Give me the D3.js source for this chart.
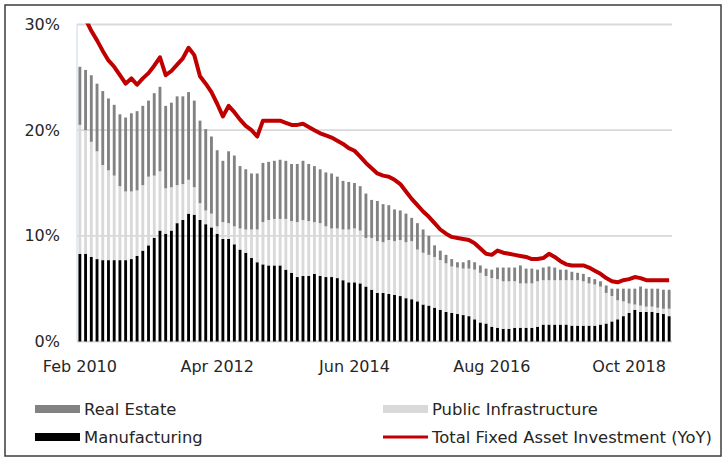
<!DOCTYPE html>
<html>
<head>
<meta charset="utf-8">
<script src="https://cdn.jsdelivr.net/npm/d3@7"></script>
<style>
  html, body { margin: 0; padding: 0; background: #fff; }
  svg { display: block; }
  text { font-family: "DejaVu Sans", sans-serif; fill: #262626; }
</style>
</head>
<body>
<svg id="chart" width="725" height="459"></svg>
<script>
// ---------- DATA ----------
const categories = [
  "Feb 2010","Mar 2010","Apr 2010","May 2010","Jun 2010","Jul 2010","Aug 2010","Sep 2010","Oct 2010","Nov 2010","Dec 2010",
  "Feb 2011","Mar 2011","Apr 2011","May 2011","Jun 2011","Jul 2011","Aug 2011","Sep 2011","Oct 2011","Nov 2011","Dec 2011",
  "Feb 2012","Mar 2012","Apr 2012","May 2012","Jun 2012","Jul 2012","Aug 2012","Sep 2012","Oct 2012","Nov 2012","Dec 2012",
  "Feb 2013","Mar 2013","Apr 2013","May 2013","Jun 2013","Jul 2013","Aug 2013","Sep 2013","Oct 2013","Nov 2013","Dec 2013",
  "Feb 2014","Mar 2014","Apr 2014","May 2014","Jun 2014","Jul 2014","Aug 2014","Sep 2014","Oct 2014","Nov 2014","Dec 2014",
  "Feb 2015","Mar 2015","Apr 2015","May 2015","Jun 2015","Jul 2015","Aug 2015","Sep 2015","Oct 2015","Nov 2015","Dec 2015",
  "Feb 2016","Mar 2016","Apr 2016","May 2016","Jun 2016","Jul 2016","Aug 2016","Sep 2016","Oct 2016","Nov 2016","Dec 2016",
  "Feb 2017","Mar 2017","Apr 2017","May 2017","Jun 2017","Jul 2017","Aug 2017","Sep 2017","Oct 2017","Nov 2017","Dec 2017",
  "Feb 2018","Mar 2018","Apr 2018","May 2018","Jun 2018","Jul 2018","Aug 2018","Sep 2018","Oct 2018","Nov 2018","Dec 2018",
  "Feb 2019","Mar 2019","Apr 2019","May 2019","Jun 2019"
];

// Contribution to FAI growth (percentage points)
const manufacturing = [
  8.3,8.3,8.0,7.8,7.7,7.7,7.7,7.7,7.7,7.8,8.1,
  8.6,9.1,9.8,10.5,10.2,10.5,11.2,11.5,12.1,12.0,11.5,
  11.1,10.8,10.2,9.7,9.7,9.2,8.7,8.4,7.9,7.5,7.3,
  7.2,7.2,7.2,6.8,6.5,6.1,6.2,6.2,6.4,6.2,6.1,
  6.1,6.0,5.8,5.6,5.6,5.5,5.2,4.9,4.6,4.6,4.5,
  4.4,4.3,4.1,4.0,3.8,3.5,3.4,3.2,3.0,2.8,2.7,
  2.6,2.5,2.4,2.1,1.8,1.7,1.4,1.3,1.2,1.2,1.3,
  1.3,1.3,1.3,1.4,1.6,1.6,1.6,1.6,1.6,1.5,1.5,
  1.5,1.5,1.5,1.6,1.7,1.9,2.1,2.4,2.7,3.0,2.8,
  2.8,2.8,2.7,2.6,2.4
];
const publicInfrastructure = [
  12.2,11.7,10.9,10.2,9.0,8.5,8.0,7.0,6.5,6.4,6.2,
  6.2,6.5,5.9,5.6,4.3,4.1,3.6,3.4,3.2,2.6,1.6,
  1.3,1.3,0.7,1.6,1.5,1.7,2.0,2.2,2.7,3.1,4.0,
  4.3,4.4,4.4,4.8,4.9,5.2,5.3,5.2,4.9,5.0,4.8,
  4.6,4.7,4.8,5.0,5.1,5.0,4.6,4.9,4.9,4.8,5.1,
  5.1,5.3,5.3,5.5,4.9,4.9,4.8,4.8,4.7,4.6,4.4,
  4.4,4.4,4.5,4.7,4.7,4.5,4.6,4.6,4.5,4.5,4.4,
  4.2,4.2,4.2,4.3,4.2,4.2,4.2,4.2,4.2,4.3,4.3,
  4.2,4.0,3.9,3.6,2.9,2.4,1.8,1.4,0.9,0.5,0.6,
  0.5,0.5,0.5,0.5,0.7
];
const realEstate = [
  5.5,5.7,6.3,6.4,7.0,6.8,6.7,6.8,7.0,7.4,7.5,
  7.5,7.2,7.8,8.0,7.8,8.0,8.4,8.3,8.3,8.2,7.8,
  7.7,7.3,7.2,5.8,6.8,6.7,5.9,5.7,5.3,5.3,5.6,
  5.5,5.5,5.6,5.5,5.4,5.5,5.6,5.4,5.3,5.1,5.1,
  5.2,4.9,4.6,4.5,4.3,4.2,4.2,3.6,3.8,3.6,3.3,
  3.0,2.8,2.7,2.2,2.5,2.2,1.8,1.1,0.9,0.8,0.7,
  0.5,0.6,0.8,0.7,0.7,0.7,0.8,1.1,1.3,1.3,1.3,
  1.7,1.4,1.4,1.1,1.2,1.3,1.2,1.0,1.0,0.8,0.7,
  0.7,0.6,0.5,0.5,0.7,0.7,1.1,1.2,1.4,1.5,1.8,
  1.7,1.7,1.8,1.8,1.8
];
// Total fixed asset investment, YoY %
const totalFAI = [
  31.5,30.5,29.4,28.5,27.5,26.6,26.0,25.2,24.4,24.9,24.3,
  24.9,25.4,26.1,26.9,25.2,25.6,26.2,26.8,27.8,27.1,25.1,
  24.4,23.6,22.5,21.3,22.3,21.7,21.0,20.4,20.0,19.4,20.9,
  20.9,20.9,20.9,20.7,20.5,20.5,20.6,20.3,20.0,19.7,19.5,
  19.3,19.0,18.7,18.3,18.05,17.5,16.9,16.4,15.9,15.7,15.6,
  15.3,14.9,14.2,13.5,12.9,12.3,11.8,11.2,10.6,10.2,9.9,
  9.8,9.7,9.6,9.3,8.8,8.3,8.2,8.6,8.4,8.3,8.2,
  8.1,8.0,7.8,7.8,7.9,8.3,8.0,7.6,7.3,7.2,7.2,
  7.2,7.0,6.7,6.4,6.0,5.7,5.6,5.8,5.9,6.1,6.0,
  5.8,5.8,5.8,5.8,5.8
];
const yTicks = [0, 10, 20, 30];
const tickLabels = ["Feb 2010", "Apr 2012", "Jun 2014", "Aug 2016", "Oct 2018"];
const seriesNames = ["Manufacturing", "Public Infrastructure", "Real Estate"];
const lineName = "Total Fixed Asset Investment (YoY)";

// ---------- CHART ----------
const svg = d3.select("#chart");
const plot = { left: 77, right: 672, top: 24.5, bottom: 341.5 };

const x = d3.scaleBand().domain(categories).range([plot.left, plot.right])
  .paddingInner(0.5).paddingOuter(0.25);
const y = d3.scaleLinear().domain([0, 30]).range([plot.bottom, plot.top]);

const colors = {
  "Manufacturing": "#000000",
  "Public Infrastructure": "#d9d9d9",
  "Real Estate": "#828282"
};

// outer frame
svg.append("rect").attr("x", 5).attr("y", 5).attr("width", 716).attr("height", 451)
  .attr("fill", "none").attr("stroke", "#3c3c3c").attr("stroke-width", 1.5);

// gridlines
svg.append("g").selectAll("line").data(yTicks).join("line")
  .attr("x1", plot.left).attr("x2", plot.right)
  .attr("y1", d => y(d)).attr("y2", d => y(d))
  .attr("stroke", "#d9d9d9").attr("stroke-width", 1.8);

// left axis line
svg.append("line").attr("x1", plot.left).attr("x2", plot.left)
  .attr("y1", y(30)).attr("y2", y(0))
  .attr("stroke", "#c5d9ee").attr("stroke-width", 1);

// stacked bars
const rows = categories.map((c, i) => ({
  cat: c,
  "Manufacturing": manufacturing[i],
  "Public Infrastructure": publicInfrastructure[i],
  "Real Estate": realEstate[i]
}));
const stack = d3.stack().keys(seriesNames)(rows);
svg.append("g").selectAll("g").data(stack).join("g")
  .attr("fill", d => colors[d.key])
  .selectAll("rect").data(d => d).join("rect")
  .attr("x", d => x(d.data.cat))
  .attr("width", x.bandwidth())
  .attr("y", d => y(d[1]))
  .attr("height", d => y(d[0]) - y(d[1]));

// line (clipped to plot)
svg.append("clipPath").attr("id", "clip").append("rect")
  .attr("x", plot.left).attr("y", plot.top - 1)
  .attr("width", plot.right - plot.left + 5).attr("height", plot.bottom - plot.top + 2);
const line = d3.line()
  .x((d, i) => x(categories[i]) + x.bandwidth() / 2)
  .y(d => y(d));
svg.append("path").datum(totalFAI)
  .attr("clip-path", "url(#clip)")
  .attr("d", line).attr("fill", "none")
  .attr("stroke", "#c00000").attr("stroke-width", 4)
  .attr("stroke-linejoin", "round").attr("stroke-linecap", "butt");

// y axis labels
const yAxis = d3.axisLeft(y).tickValues(yTicks).tickFormat(d => d + "%")
  .tickSize(0).tickPadding(17);
const gy = svg.append("g").attr("transform", `translate(${plot.left},0)`).call(yAxis);
gy.select(".domain").remove();
gy.selectAll("text").attr("font-size", 16).attr("font-family", "DejaVu Sans").attr("fill", "#262626");

// x axis labels
const xAxis = d3.axisBottom(x).tickValues(tickLabels).tickSize(0).tickPadding(19);
const gx = svg.append("g").attr("transform", `translate(0,${plot.bottom})`).call(xAxis);
gx.select(".domain").remove();
gx.selectAll("text").attr("font-size", 16).attr("font-family", "DejaVu Sans").attr("fill", "#262626");

// legend
const legend = [
  { name: "Real Estate", type: "rect", color: colors["Real Estate"], x: 35, y: 409 },
  { name: "Public Infrastructure", type: "rect", color: colors["Public Infrastructure"], x: 383, y: 409 },
  { name: "Manufacturing", type: "rect", color: colors["Manufacturing"], x: 35, y: 437 },
  { name: lineName, type: "line", color: "#c00000", x: 383, y: 437 }
];
const lg = svg.append("g").selectAll("g").data(legend).join("g")
  .attr("transform", d => `translate(${d.x},${d.y})`);
lg.filter(d => d.type === "rect").append("rect")
  .attr("x", 0).attr("y", -4).attr("width", 45).attr("height", 8)
  .attr("fill", d => d.color);
lg.filter(d => d.type === "line").append("line")
  .attr("x1", 0).attr("x2", 45).attr("y1", 0).attr("y2", 0)
  .attr("stroke", d => d.color).attr("stroke-width", 3);
lg.append("text").attr("x", 49).attr("y", 0).attr("dy", "0.36em")
  .attr("font-size", 16.4).text(d => d.name);
</script>
</body>
</html>
